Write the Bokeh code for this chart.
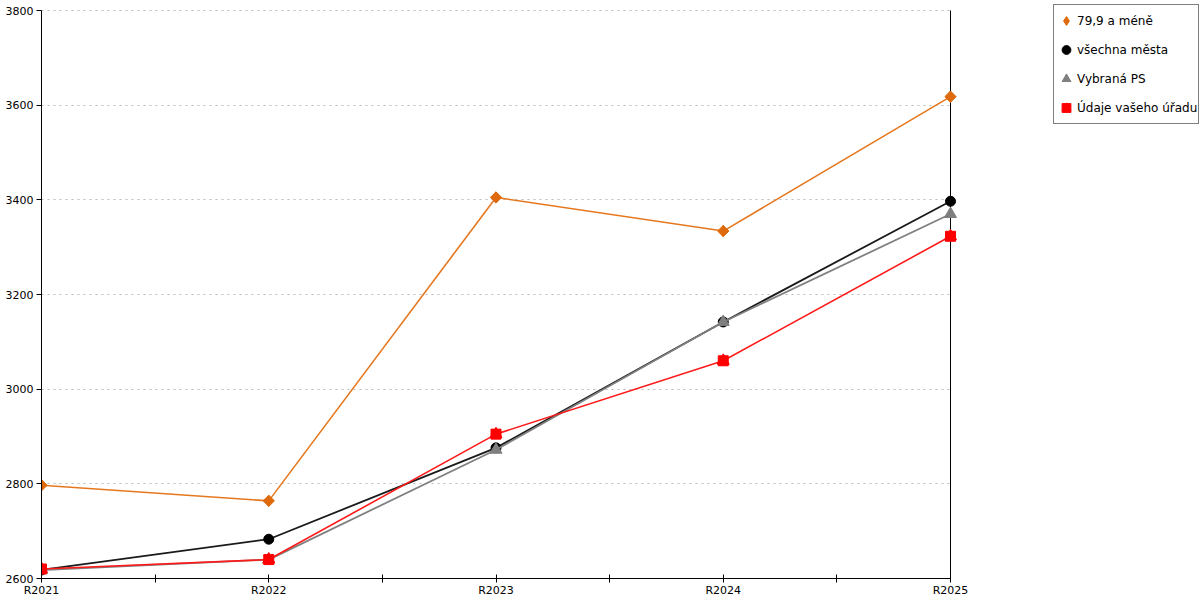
import math
from bokeh.plotting import figure
from bokeh.models import (FixedTicker, Legend, LegendItem, Range1d)
from bokeh.embed import file_html
from bokeh.resources import INLINE

categories = ["R2021", "R2022", "R2023", "R2024", "R2025"]
s_small = [2797, 2764, 3405, 3334, 3618]      # 79,9 a méně
s_all = [2618, 2683, 2876, 3142, 3397]        # všechna města
s_ps = [2618, 2640, 2872, 3142, 3370]         # Vybraná PS
s_office = [2620, 2640, 2905, 3060, 3323]     # Údaje vašeho úřadu
y_ticks = [2600, 2800, 3000, 3200, 3400, 3600, 3800]

names = ["79,9 a méně", "všechna města", "Vybraná PS", "Údaje vašeho úřadu"]

xs = list(range(len(categories)))
FONT = "DejaVu Sans"

# layout (pixels)
W, H = 1200, 600
BL, BB = 41, 22
FRAME_W = W - BL            # frame runs to the right edge (legend lives inside it)
FRAME_H = H - BB            # frame runs to the top edge
DATA_W = 909                # pixel width of the data area
DATA_TOP = 10               # pixel gap above the 3800 line

x_end = (len(categories) - 1) * FRAME_W / DATA_W
y_span = y_ticks[-1] - y_ticks[0]
y_end = y_ticks[-1] + y_span * DATA_TOP / (FRAME_H - DATA_TOP)

p = figure(width=W, height=H, output_backend="svg", toolbar_location=None,
           x_range=Range1d(0, x_end), y_range=Range1d(y_ticks[0], y_end),
           min_border_left=BL, min_border_top=0, min_border_bottom=BB,
           min_border_right=0)
p.outline_line_color = None
p.background_fill_color = "white"

# x axis
p.xaxis.ticker = FixedTicker(ticks=[i * 0.5 for i in range(2 * len(categories) - 1)])
p.xaxis.major_label_overrides = {float(i * 0.5): (categories[i // 2] if i % 2 == 0 else "")
                                 for i in range(2 * len(categories) - 1)}
p.xaxis.major_label_overrides.update({i: c for i, c in enumerate(categories)})
p.xaxis.bounds = (0, len(categories) - 1)
p.xaxis.minor_tick_line_color = None
p.xaxis.major_tick_in = 4
p.xaxis.major_tick_out = 4
p.xaxis.axis_line_color = "black"
p.xaxis.major_tick_line_color = "black"
p.xaxis.major_label_text_font = FONT
p.xaxis.major_label_text_font_size = "11px"
p.xaxis.major_label_text_color = "black"
p.xaxis.major_label_standoff = 1

# y axis
p.yaxis.ticker = FixedTicker(ticks=y_ticks)
p.yaxis.bounds = (y_ticks[0], y_ticks[-1])
p.yaxis.minor_tick_line_color = None
p.yaxis.major_tick_in = 0
p.yaxis.major_tick_out = 5
p.yaxis.axis_line_color = "black"
p.yaxis.major_label_text_font = FONT
p.yaxis.major_label_text_font_size = "11px"
p.yaxis.major_label_text_color = "black"
p.yaxis.major_label_standoff = 3

# grid
p.xgrid.grid_line_color = None
p.ygrid.ticker = FixedTicker(ticks=y_ticks)
p.ygrid.bounds = (y_ticks[0], y_ticks[-1])
p.ygrid.cross_bounds = (0, len(categories) - 1)
p.ygrid.grid_line_color = "#bbbbbb"
p.ygrid.grid_line_dash = "2 4"
p.ygrid.grid_line_width = 1

# right edge line of the plot area
p.segment(x0=[xs[-1]], y0=[y_ticks[0]], x1=[xs[-1]], y1=[y_ticks[-1]],
          line_color="black", line_width=1)

# series
l1 = p.line(xs, s_small, line_color="#E5781F", line_width=1.6)
m1_leg = p.scatter(xs, s_small, marker="diamond", size=11,
                   fill_color="#DE6A0C", line_color="#DE6A0C")
m1 = p.scatter(xs, s_small, marker="square", angle=math.pi / 4, size=8,
               fill_color="#DE6A0C", line_color="#DE6A0C")
l2 = p.line(xs, s_all, line_color="#1a1a1a", line_width=1.8)
m2 = p.scatter(xs, s_all, marker="circle", size=10, fill_color="black", line_color="black")
l3 = p.line(xs, s_ps, line_color="#808080", line_width=1.8)
m3 = p.scatter(xs, s_ps, marker="triangle", size=12, fill_color="#7f7f7f", line_color="#7f7f7f")
l4 = p.line(xs, s_office, line_color="#FF1A1A", line_width=1.6)
m4a = p.scatter(xs, s_office, marker="square", size=10, fill_color="red", line_color="red")
m4b = p.scatter(xs, s_office, marker="triangle", size=12, fill_color="red", line_color="red")

legend = Legend(items=[
    LegendItem(label=names[0], renderers=[m1_leg]),
    LegendItem(label=names[1], renderers=[m2]),
    LegendItem(label=names[2], renderers=[m3]),
    LegendItem(label=names[3], renderers=[m4a, m4b]),
], location=(1012, FRAME_H - 124))
legend.border_line_color = "black"
legend.border_line_width = 1
legend.background_fill_color = "white"
legend.background_fill_alpha = 1
legend.label_text_font = FONT
legend.label_text_font_size = "12px"
legend.label_text_color = "black"
legend.glyph_width = 22
legend.glyph_height = 29
legend.label_height = 29
legend.spacing = 0
legend.padding = 1
legend.margin = 0
legend.label_standoff = 0
p.add_layout(legend, "center")

open("out.html", "w").write(file_html(p, INLINE))
